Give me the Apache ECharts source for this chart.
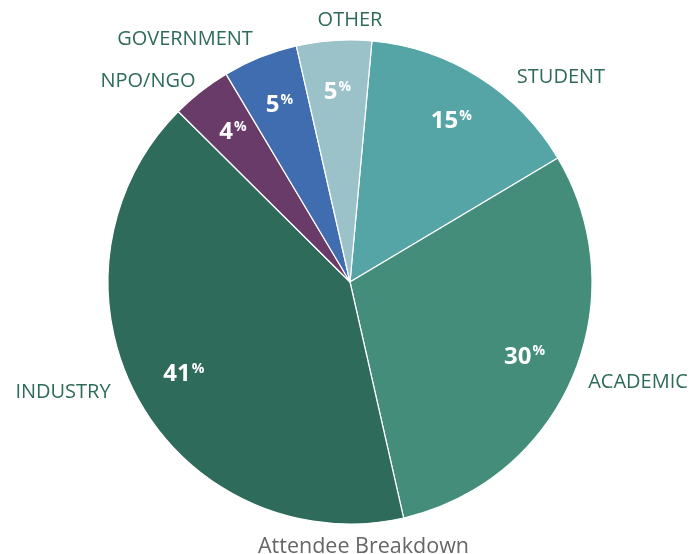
<!DOCTYPE html>
<html>
<head>
<meta charset="utf-8">
<script src="https://cdn.jsdelivr.net/npm/echarts@6/dist/echarts.min.js"></script>
<style>html,body{margin:0;padding:0;background:#fff}#c{width:696px;height:554px}</style>
</head>
<body>
<div id="c"></div>
<script>
const categories = ['STUDENT', 'ACADEMIC', 'INDUSTRY', 'NPO/NGO', 'GOVERNMENT', 'OTHER'];
const percents = [15, 30, 41, 4, 5, 5];
const title = 'Attendee Breakdown';

const colors = ['#55a5a6', '#448d7a', '#2f6b5a', '#693b69', '#3f6db0', '#9bc2c9'];
// name label centre offsets from pie centre (layout only)
const labelOffsets = [[211, -205], [288, 100], [-287, 110], [-202, -201], [-165, -243], [0, -262]];

const FONT = '"Open Sans", "Noto Sans", sans-serif';
const chart = echarts.init(document.getElementById('c'), null, {renderer: 'canvas'});
const CX = 350, CY = 282, R = 242;

const data = categories.map((n, i) => ({name: n, value: percents[i], itemStyle: {color: colors[i]}}));

chart.setOption({
  animation: false,
  title: {
    text: title, left: 253, top: 531,
    textStyle: {color: '#666666', fontSize: 21.5, fontWeight: 'normal', fontFamily: FONT}
  },
  series: [
    {
      type: 'pie',
      center: [CX, CY],
      radius: [0, R],
      startAngle: 84.8,
      clockwise: true,
      silent: true,
      itemStyle: {borderColor: '#ffffff', borderWidth: 1.2},
      label: {
        show: true, position: 'outside', formatter: '{b}', overflow: 'none',
        color: '#2f6b5a', fontSize: 20, fontFamily: FONT
      },
      labelLine: {show: false},
      labelLayout: function (p) {
        const o = labelOffsets[p.dataIndex];
        return {x: CX + o[0], y: CY + o[1], align: 'center', verticalAlign: 'middle', hideOverlap: false, moveOverlap: false};
      },
      data: data
    },
    {
      type: 'pie',
      center: [CX, CY],
      radius: [132, R],
      startAngle: 84.8,
      clockwise: true,
      silent: true,
      itemStyle: {color: 'rgba(0,0,0,0)', borderWidth: 0},
      label: {
        show: true, position: 'inside',
        formatter: p => '{v|' + p.value + '}{p|%}',
        rich: {
          v: {color: '#ffffff', fontSize: 24, fontWeight: 'bold', fontFamily: FONT},
          p: {color: '#ffffff', fontSize: 14, fontWeight: 'bold', fontFamily: FONT, padding: [0, 0, 11, 1]}
        }
      },
      labelLine: {show: false},
      data: categories.map((n, i) => ({name: n, value: percents[i]}))
    }
  ]
});
</script>
</body>
</html>
